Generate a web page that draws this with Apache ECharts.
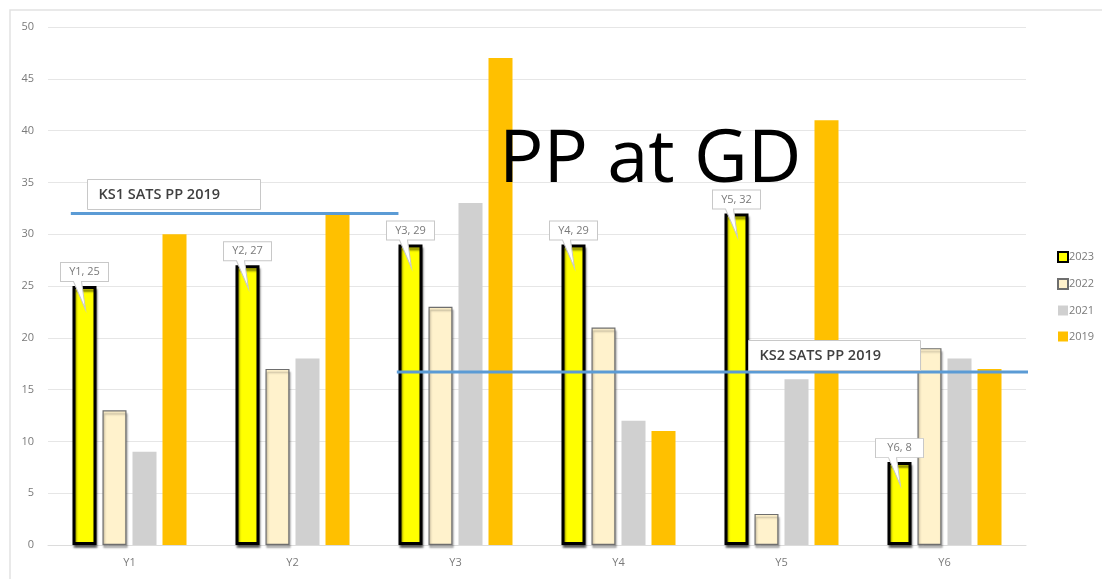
<!DOCTYPE html>
<html>
<head>
<meta charset="utf-8">
<script src="https://cdn.jsdelivr.net/npm/echarts@6/dist/echarts.min.js"></script>
<style>
  html, body { margin: 0; padding: 0; background: #fff; }
  #chart { width: 1102px; height: 579px; }
</style>
</head>
<body>
<div id="chart"></div>
<script>
var categories = ['Y1', 'Y2', 'Y3', 'Y4', 'Y5', 'Y6'];
var y2023 = [25, 27, 29, 29, 32, 8];
var y2022 = [13, 17, 23, 21, 3, 19];
var y2021 = [9, 18, 33, 12, 16, 18];
var y2019 = [30, 32, 47, 11, 41, 17];
var yTicks = { min: 0, max: 50, interval: 5 };

// benchmark lines: [category position start, end] on a 0..6 scale
var ks1Value = 32;
var ks1Span = [0.14, 2.15];
var ks2Value = 16.7;
var ks2Span = [2.14, 6.02];

var chart = echarts.init(document.getElementById('chart'));

var calloutPath = 'path://M0 0 H48 V19 H21 L25 47 L13 19 H0 Z';

var callouts = categories.map(function (c, i) {
    return { name: c, value: y2023[i], coord: [c, y2023[i]] };
});

function spanData(span, v) {
    return [[span[0], v], [span[1], v]];
}

function noteBox(text, left, top, width) {
    return {
        type: 'group',
        left: left,
        top: top,
        z: 100,
        children: [{
            type: 'rect',
            z: 100,
            shape: { x: 0, y: 0, width: width, height: 30 },
            style: { fill: '#fff', stroke: '#c8c8c8', lineWidth: 1 }
        }, {
            type: 'text',
            z: 101,
            x: 11,
            y: 15,
            style: {
                text: text, fill: '#404040',
                font: '600 14.5px "Open Sans"', verticalAlign: 'middle'
            }
        }]
    };
}

var option = {
    backgroundColor: '#fff',
    animation: false,
    title: {
        text: 'PP at GD',
        left: 494,
        top: 119,
        textStyle: { fontFamily: 'Open Sans', fontSize: 74, fontWeight: 'normal', color: '#000' }
    },
    legend: {
        orient: 'vertical',
        left: 1052,
        top: 246,
        itemWidth: 10,
        itemHeight: 10,
        itemGap: 15,
        icon: 'rect',
        data: ['2023', '2022', '2021', '2019'],
        textStyle: { fontFamily: 'Open Sans', fontSize: 11, color: '#7a7a7a', padding: [0, 0, 0, -4] }
    },
    grid: { left: 48, right: 76, top: 27, bottom: 34 },
    xAxis: [{
        type: 'category',
        data: categories,
        axisLine: { lineStyle: { color: '#dcdcdc' } },
        axisTick: { show: false },
        axisLabel: { fontFamily: 'Open Sans', fontSize: 11, color: '#7a7a7a', margin: 12 }
    }, {
        type: 'value',
        min: 0,
        max: 6,
        show: false
    }],
    yAxis: {
        type: 'value',
        min: yTicks.min,
        max: yTicks.max,
        interval: yTicks.interval,
        axisLine: { show: false },
        axisTick: { show: false },
        axisLabel: { fontFamily: 'Open Sans', fontSize: 11, color: '#7a7a7a', margin: 14 },
        splitLine: { lineStyle: { color: '#e6e6e6' } }
    },
    series: [{
        name: '2023',
        type: 'bar',
        data: y2023,
        barWidth: 24,
        barGap: '25%',
        itemStyle: {
            color: '#ffff00', borderColor: '#000', borderWidth: 3,
            shadowColor: 'rgba(0,0,0,0.45)', shadowOffsetX: 1, shadowOffsetY: 3, shadowBlur: 2
        },
        markPoint: {
            symbol: calloutPath,
            symbolSize: [48, 47],
            symbolKeepAspect: false,
            symbolOffset: [0, 0],
            itemStyle: { color: '#fff', borderColor: '#c8c8c8', borderWidth: 1 },
            label: {
                formatter: '{b}, {c}',
                offset: [0, -14],
                fontFamily: 'Open Sans',
                fontSize: 11,
                color: '#7a7a7a'
            },
            data: callouts
        }
    }, {
        name: '2022',
        type: 'bar',
        data: y2022,
        barWidth: 24,
        barGap: '25%',
        itemStyle: {
            color: '#fff2cc', borderColor: '#6e6e6e', borderWidth: 1.2,
            shadowColor: 'rgba(0,0,0,0.3)', shadowOffsetX: 1, shadowOffsetY: 3, shadowBlur: 2
        }
    }, {
        name: '2021',
        type: 'bar',
        data: y2021,
        barWidth: 24,
        barGap: '25%',
        itemStyle: { color: '#d0d0d0' }
    }, {
        name: '2019',
        type: 'bar',
        data: y2019,
        barWidth: 24,
        barGap: '25%',
        itemStyle: { color: '#ffc000' }
    }, {
        name: 'KS1',
        type: 'line',
        xAxisIndex: 1,
        data: spanData(ks1Span, ks1Value),
        symbol: 'none',
        clip: false,
        lineStyle: { color: '#5b9bd5', width: 3 },
        z: 4
    }, {
        name: 'KS2',
        type: 'line',
        xAxisIndex: 1,
        data: spanData(ks2Span, ks2Value),
        symbol: 'none',
        clip: false,
        lineStyle: { color: '#5b9bd5', width: 3 },
        z: 4
    }],
    graphic: [{
        type: 'rect',
        shape: { x: 10, y: 10, width: 1200, height: 700 },
        style: { fill: 'none', stroke: '#e2e2e2', lineWidth: 1.5 },
        silent: true
    },
        noteBox('KS1 SATS PP 2019', 87, 179, 173),
        noteBox('KS2 SATS PP 2019', 748, 340, 172)
    ]
};

chart.setOption(option);
</script>
</body>
</html>
